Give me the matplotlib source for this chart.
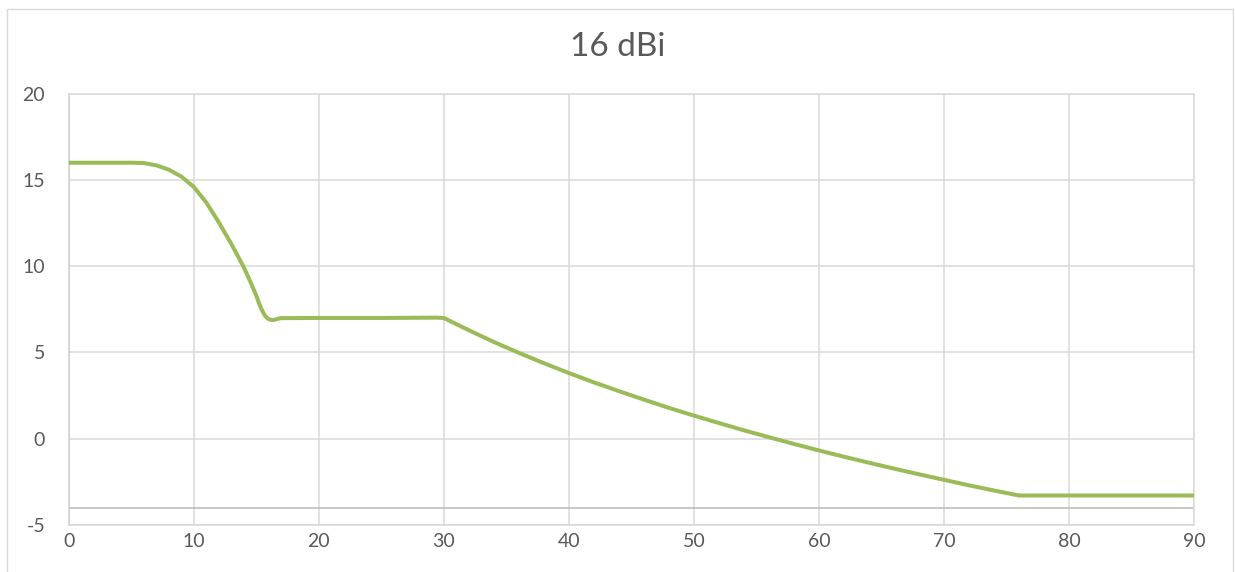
import matplotlib
matplotlib.use("Agg")
import matplotlib.pyplot as plt
from matplotlib.patches import Rectangle

# Antenna gain pattern (dBi) versus off-axis angle (degrees)
angle_deg = [0, 2, 4, 5, 6, 7, 8, 9, 10, 11, 12, 13, 14, 14.5, 15, 15.25, 15.5,
             15.75, 16, 16.25, 16.5, 16.75, 17,
             20, 25, 29.5, 30, 32, 34, 36, 38, 40, 42, 44, 46, 48, 50, 52, 54, 56,
             58, 60, 62, 64, 66, 68, 70, 72, 74, 76, 80, 85, 90]
gain_dbi = [16.0, 16.0, 16.0, 16.0, 15.98, 15.85, 15.6, 15.2, 14.6, 13.7, 12.55,
            11.3, 9.95, 9.15, 8.3, 7.8, 7.38, 7.08, 6.93, 6.88, 6.9, 6.96, 6.99,
            7.0, 7.0, 7.02, 7.0, 6.29, 5.61, 4.98, 4.38, 3.81, 3.27, 2.76, 2.27,
            1.79, 1.34, 0.91, 0.49, 0.09, -0.30, -0.68, -1.04, -1.39, -1.73,
            -2.06, -2.38, -2.70, -3.00, -3.29, -3.29, -3.29, -3.29]

x_ticks = [0, 10, 20, 30, 40, 50, 60, 70, 80, 90]
y_ticks = [-5, 0, 5, 10, 15, 20]
axis_cross = -4
title_text = "16 dBi"

plt.rcParams['font.family'] = ['Lato', 'DejaVu Sans']
plt.rcParams['axes.unicode_minus'] = False

W, H = 1235, 572
fig = plt.figure(figsize=(W / 100, H / 100), dpi=100)
fig.patch.set_facecolor("white")

# chart frame
fig.patches.append(Rectangle((6.5 / W, -0.05), (1233 - 6.5) / W, 1 - 9 / H + 0.05,
                             transform=fig.transFigure, fill=False,
                             edgecolor="#d9d9d9", linewidth=1.0))

left, right, top, bottom = 68.7, 1194, 93.7, 525
ax = fig.add_axes([left / W, 1 - bottom / H, (right - left) / W, (bottom - top) / H])

grid_c = "#d9d9d9"
text_c = "#595959"

ax.set_xlim(0, 90)
ax.set_ylim(-5, 20)
ax.set_xticks(x_ticks)
ax.set_yticks(y_ticks)
ax.grid(True, color=grid_c, linewidth=1.1)
ax.set_axisbelow(True)
for s in ax.spines.values():
    s.set_color(grid_c)
    s.set_linewidth(1.1)
ax.spines['left'].set_color("#cfcfcf")

# horizontal category axis line
ax.axhline(axis_cross, color="#bfbfbf", linewidth=1.2, zorder=1.5)

ax.tick_params(axis='both', length=0, labelsize=14, labelcolor=text_c)
ax.tick_params(axis='y', pad=17)
ax.tick_params(axis='x', pad=5.5)

ax.plot(angle_deg, gain_dbi, color="#9bbb59", linewidth=2.9,
        solid_joinstyle="round", solid_capstyle="butt", zorder=3)

fig.text(0.5, 1 - 47 / H, title_text, ha="center", va="center",
         fontsize=24, color=text_c)

fig.savefig("out.png", dpi=100)
